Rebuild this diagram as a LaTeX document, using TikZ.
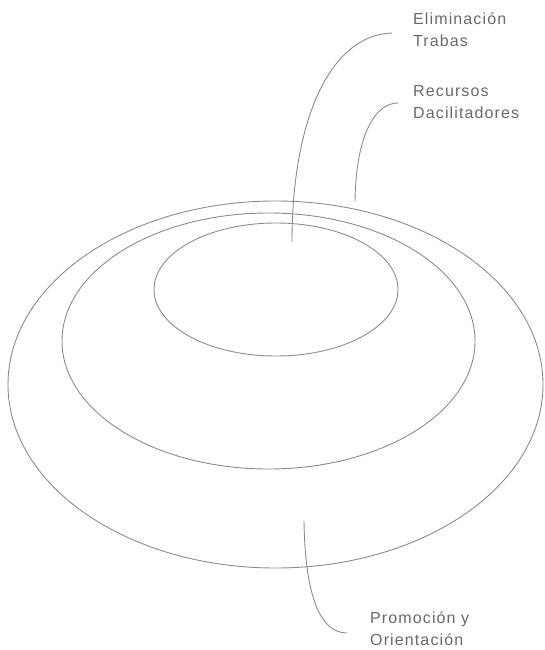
\documentclass[tikz,border=0pt]{standalone}
\usepackage{fontspec}
\setmainfont{Liberation Sans}
\newfontfamily\tagfont[LetterSpace=7]{Liberation Sans}
\usetikzlibrary{shapes.geometric}
\definecolor{linegray}{RGB}{140,140,140}
\definecolor{textgray}{RGB}{105,105,105}
\tikzset{
  ring/.style={ellipse, draw=linegray, line width=0.9pt, inner sep=0pt, outer sep=0pt},
  lead/.style={draw=linegray, line width=0.9pt},
  tag/.style={font=\tagfont\fontsize{16}{21.7}\selectfont, text=textgray, align=left, anchor=base west, inner sep=0pt}
}

\begin{document}
\begin{tikzpicture}[x=1pt, y=-1pt]
    \useasboundingbox (0,0) rectangle (545,650);

    \node[ring, minimum width=535pt, minimum height=367pt] (outer) at (275.5,384.5) {};
    \node[ring, minimum width=413pt, minimum height=256pt] (middle) at (268.5,341) {};
    \node[ring, minimum width=244pt, minimum height=133pt] (inner) at (276,289.5) {};

    \node[tag] (elim) at (413,46.7) {Eliminación\\Trabas};
    \node[tag] (recur) at (413,118.4) {Recursos\\Dacilitadores};
    \node[tag] (promo) at (370,645) {Promoción y\\Orientación};

    \coordinate (elimend) at (292,242);
    \coordinate (recurend) at (355,201);
    \coordinate (promoend) at (304,521);

    \draw[lead] ([xshift=-21pt,yshift=13.7pt]elim.base west) .. controls (330,35) and (292,120) .. (elimend);
    \draw[lead] ([xshift=-15pt,yshift=15.4pt]recur.base west) .. controls (375,103) and (356,135) .. (recurend);
    \draw[lead] ([xshift=-23pt,yshift=12pt]promo.base west) .. controls (318,633) and (305,590) .. (promoend);
\end{tikzpicture}
\end{document}
